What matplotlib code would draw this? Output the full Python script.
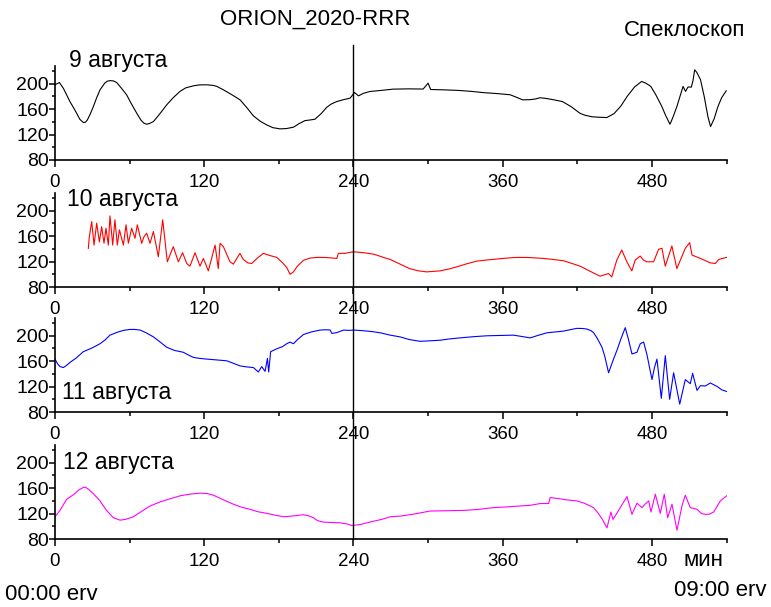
import matplotlib
matplotlib.use('Agg')
import matplotlib.pyplot as plt
from matplotlib.lines import Line2D
from matplotlib.transforms import blended_transform_factory
from matplotlib.ticker import MultipleLocator

plt.rcParams['font.family'] = ['Liberation Sans', 'DejaVu Sans']

# (минуты, значение)
aug9 = [(0, 198.4), (3.5, 202), (6.7, 193), (10, 180), (12, 172), (15, 162), (17.4, 153.7),
        (20, 144), (22.8, 139), (24.5, 139.5), (26, 143), (28.5, 153), (31, 165), (33.5, 178),
        (36.2, 190.5), (40, 201), (42, 204), (44.2, 205), (47, 204.5), (49.6, 202), (53, 194),
        (57.6, 182.6), (61, 170), (65.7, 153.7), (69, 143), (71.5, 138), (73.7, 136.3),
        (76, 137.5), (79.1, 140.5), (84, 152), (89.8, 166.8), (95, 178), (100.5, 188),
        (105, 193.5), (111.3, 196.8), (116, 198.2), (122, 198.4), (127, 197.5), (130, 196),
        (135.4, 190.5), (142, 183), (148.8, 174.7), (154, 163), (159.5, 149.5), (165, 141),
        (170.2, 135.3), (175, 131), (180.9, 129), (186, 129.5), (191.7, 131.6), (196, 137),
        (201, 142), (205, 143), (209, 144.2), (214, 153), (218.5, 163), (222, 168),
        (226.5, 172), (232, 175), (237.3, 177.4), (240.8, 186.3), (244, 181), (248, 185),
        (253.3, 187.9), (262, 189.5), (272, 191.6), (285, 192), (296, 191.7), (300, 201),
        (302, 191), (312, 190.5), (324, 189.6), (335, 188), (345, 186), (356, 184.5),
        (366, 182.7), (372, 178), (376, 174.7), (382, 175), (386, 176), (390, 178),
        (394.6, 177), (401.3, 174.7), (408, 172), (415, 164), (422, 153.7), (426, 150.5),
        (432, 148), (438, 147.3), (443.6, 146.8), (449.5, 153), (455, 165), (460, 180),
        (466, 195), (471.7, 203.7), (475, 201), (479, 196), (483, 183), (488, 164), (491, 150),
        (494.5, 136.3), (497, 148), (500, 164), (502.5, 180), (505, 195.8), (507, 188),
        (509, 195), (511.6, 194.7), (513, 205), (514.3, 222), (516, 218), (519, 206.6),
        (522, 180), (525, 148), (527.1, 132.6), (530, 145), (533, 164), (536, 178),
        (539.7, 189)]

aug10 = [(26.8, 140.8), (27.6, 159), (29.5, 183), (31.4, 146), (33.5, 180.5), (35.7, 151),
         (37.5, 175), (39.4, 149), (41, 172.6), (42.9, 146), (44.2, 192), (46.4, 146),
         (48.2, 185.8), (50.1, 146), (51.8, 170), (55, 146), (57.1, 177.9), (59, 149),
         (61.6, 172.6), (64.3, 156.7), (66.2, 177.9), (69.7, 148.8), (71.5, 159), (73.7, 164.7),
         (76.4, 148.8), (79.1, 167.3), (83.1, 127.6), (86.6, 185.8), (90.3, 119.7),
         (95.1, 143.5), (99.2, 119.7), (102.6, 134), (105.9, 117), (108.5, 112.8), (112.6, 134),
         (116.6, 112.8), (119.3, 125), (123.3, 105.4), (128.7, 146), (131.3, 109),
         (132.7, 148.8), (135.4, 143.5), (140.7, 119.7), (143.4, 116), (148.7, 133),
         (151.4, 123.4), (155, 118), (158.1, 117), (163, 126), (167.6, 133), (172, 130),
         (178.3, 126.6), (183, 118), (186.3, 110.7), (189, 100), (191.7, 103.8), (195, 113),
         (199.8, 122), (205, 125.5), (210.5, 126.6), (218, 126.5), (226.5, 125), (227.9, 133),
         (233, 133), (240, 135.5), (248, 134), (256, 131.8), (261, 128.7), (265, 126),
         (269.4, 123.5), (277.5, 116), (285, 109), (292, 105.5), (298.9, 103.8),
         (309.6, 105.4), (316, 108), (323, 111.7), (331, 116.5), (339.1, 120.7), (347, 122.5),
         (355.2, 124), (363, 125.5), (371.3, 126.6), (380, 126.5), (392.7, 125), (400, 123.5),
         (408.8, 121.3), (415, 117.5), (422.2, 112.8), (430, 105), (438.3, 97), (445, 101.2),
         (447.7, 95.9), (451.7, 122.3), (455.7, 138.2), (459.8, 119.7), (463.8, 105.4),
         (466.5, 122.3), (470.5, 128.7), (473.2, 122.3), (475.9, 119.7), (481.3, 119.7),
         (485.3, 139.3), (488, 141), (490.7, 112.8), (496, 144.6), (500, 109), (506.8, 141),
         (510.3, 149.8), (512.2, 130.3), (518.9, 125), (526.9, 118), (531, 117),
         (533.7, 123.4), (540, 126.6)]

aug11 = [(0, 163.3), (2, 156), (4, 151.5), (6.7, 150), (9, 153), (12, 158), (17, 165),
         (22.8, 175), (30, 181), (36.2, 187.5), (40, 193), (44.2, 201), (50, 205.5),
         (55, 208.5), (60.3, 210), (64, 210), (68.4, 209), (73, 205), (79.1, 198.3), (84, 191),
         (89.8, 182), (96, 177), (103.2, 174), (108, 169), (111.3, 166), (116, 164.5),
         (122, 163.3), (130, 162), (138.1, 160.6), (143, 157), (148.8, 152.6), (154, 151),
         (159.5, 150), (163.5, 143), (166.2, 151.5), (168.9, 144), (170.8, 164.4),
         (171.8, 143), (173.4, 175), (178.3, 179.5), (183, 183), (186.3, 187.5), (189, 190),
         (191.7, 187.5), (195, 194), (199.8, 202), (206, 206), (213.2, 209), (218, 209.5),
         (221.3, 209), (222.6, 203.7), (226.6, 205), (232, 209), (236, 208.5), (240, 209),
         (248, 208), (256.1, 206.3), (262, 204.5), (269.5, 201), (277.4, 198.3), (285, 194),
         (293.5, 191.3), (301, 192), (309.6, 193), (317, 195), (325.7, 196.7), (336, 198.5),
         (347.2, 200), (358, 200.5), (368.6, 201), (375, 199), (382, 196.7), (389, 201),
         (395.5, 204.7), (402, 206), (408.9, 207.4), (414, 209.5), (419.6, 211.7),
         (424, 211.5), (427.7, 210.6), (431, 208), (433, 205), (436, 196), (439.8, 182),
         (442, 168), (445.1, 141.8), (447, 152), (449.1, 163.3), (452, 178), (455, 195),
         (458.5, 212.8), (461, 195), (463.9, 171.4), (467.9, 174), (470.6, 187.5),
         (473.3, 190.2), (476, 170), (480, 131), (482, 150), (484, 163.3), (487.5, 101.5),
         (490.7, 168.7), (494.2, 100), (497.4, 141.8), (502.3, 92.4), (506.8, 131),
         (510.8, 124.6), (512.7, 140.8), (516.2, 114), (518.9, 121.4), (523, 121),
         (526.9, 125.7), (532.3, 120.3), (536, 115), (540, 112.3)]

aug12 = [(0, 115), (4, 125), (9.4, 142.7), (15, 150), (19, 157), (22.8, 161.3), (24.5, 161.5),
         (26.8, 158.6), (31, 151), (36.2, 140), (41, 126), (46.9, 113.5), (52.3, 109.7),
         (57, 111), (63, 115), (70, 124), (76.4, 132), (84.5, 138.4), (92, 143), (100.6, 148),
         (108, 150.5), (116.7, 152.2), (122, 151.7), (127.4, 149), (135, 142), (143.5, 134.7),
         (150, 130), (156.9, 126.7), (163, 123), (170.3, 120.4), (177, 117.5), (183.7, 115),
         (190, 116), (199.8, 118.2), (204, 116.5), (207.8, 113.5), (211, 109), (215.9, 106.6),
         (222, 106), (229.3, 105.5), (235, 103.5), (238.7, 101.2), (245.4, 102.8), (250, 105),
         (256.1, 108), (263, 111), (269.5, 115), (277.4, 116), (288, 119), (301.5, 124),
         (315, 124.5), (328.3, 125), (340, 126.5), (352.5, 129.4), (363, 130.5), (373.9, 132),
         (382, 133), (390, 135.8), (397, 136), (398.1, 145.3), (405, 143.5), (411.5, 141.6),
         (419.6, 140), (426, 136), (433, 129.4), (437, 120), (439.8, 111.9), (443.8, 97.5),
         (447, 122.5), (448.6, 110.8), (451, 118), (454.5, 129.4), (459.9, 146.9),
         (463.9, 118.8), (467.9, 136.3), (472, 129.4), (474.5, 135), (477.4, 140),
         (479.2, 122.5), (482.7, 150.6), (486.7, 120.4), (489.9, 150.6), (492.6, 113.5),
         (496.1, 134.7), (500.1, 93.8), (504.1, 132), (506.8, 149), (510.8, 129.4),
         (516.2, 126.7), (520, 120), (522.9, 118.8), (526, 119), (529.6, 122.5), (535, 140),
         (540, 148)]

days = ['9 августа', '10 августа', '11 августа', '12 августа']
colors = ['black', 'red', 'blue', 'magenta']

W, H = 771, 607
fig = plt.figure(figsize=(W / 100, H / 100), dpi=100)

# axes bottoms in pixels (the y=80 line) and where the date labels sit
bottoms_px = [160, 287, 412, 539]
label_pos = [(69, 61), (67, 200), (62, 392), (63, 462)]

axes = []
for data, color, name, bpx, (lx, ly) in zip([aug9, aug10, aug11, aug12], colors, days,
                                             bottoms_px, label_pos):
    x, y = zip(*data)
    ax = fig.add_axes([55 / W, 1 - bpx / H, 671.6 / W, 94 / H])
    ax.plot(x, y, color=color, lw=0.8)
    ax.set_xlim(0, 540)
    ax.set_ylim(80, 228)
    ax.xaxis.set_major_locator(MultipleLocator(120))
    ax.xaxis.set_minor_locator(MultipleLocator(60))
    ax.yaxis.set_major_locator(MultipleLocator(40))
    ax.yaxis.set_minor_locator(MultipleLocator(20))
    ax.spines['top'].set_visible(False)
    ax.spines['right'].set_visible(False)
    for s in ('left', 'bottom'):
        ax.spines[s].set_linewidth(1.2)
    ax.tick_params(axis='x', which='major', direction='out', length=5, width=1.1,
                   labelsize=13.5, pad=5)
    ax.tick_params(axis='x', which='minor', direction='out', length=3, width=1.1)
    ax.tick_params(axis='y', which='major', direction='out', length=4, width=1.1,
                   labelsize=14, pad=0.5)
    ax.tick_params(axis='y', which='minor', direction='out', length=2.2, width=1.1)
    ax.patch.set_alpha(0)
    fig.text(lx / W, 1 - ly / H, name, fontsize=16.5, ha='left', va='center')
    axes.append(ax)

# vertical marker at 240 min through all panels
trans = blended_transform_factory(axes[0].transData, fig.transFigure)
fig.add_artist(Line2D([240, 240], [1 - 45 / H, 1 - 539 / H], transform=trans,
                      color='black', lw=1, zorder=10))

fig.text(315 / W, 1 - 19 / H, 'ORION_2020-RRR', fontsize=16, ha='center', va='center')
fig.text(685 / W, 1 - 30 / H, 'Спеклоскоп', fontsize=16, ha='center', va='center')
fig.text(703 / W, 1 - 560 / H, 'мин', fontsize=16, ha='center', va='center')
fig.text(5 / W, 1 - 594 / H, '00:00 erv', fontsize=16, ha='left', va='center')
fig.text(767 / W, 1 - 590 / H, '09:00 erv', fontsize=16, ha='right', va='center')

fig.savefig('out.png', dpi=100, facecolor='white')
